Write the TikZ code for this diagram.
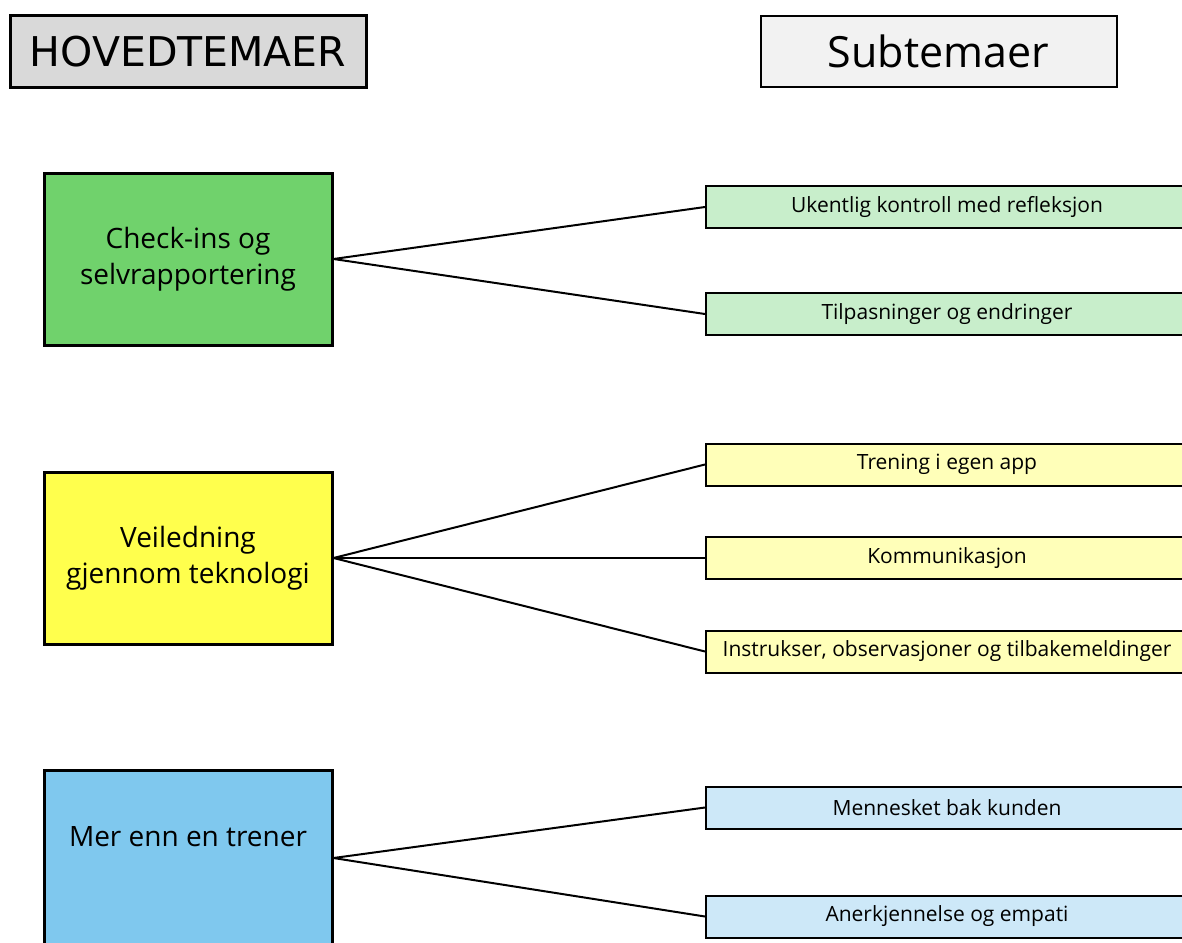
\documentclass[tikz,border=0pt]{standalone}
\usepackage{fontspec}
\setmainfont{Open Sans}
\newfontfamily\headfont{DejaVu Sans}
\usetikzlibrary{positioning}

\definecolor{headgray}{RGB}{217,217,217}
\definecolor{subgray}{RGB}{242,242,242}
\definecolor{maingreen}{RGB}{112,210,108}
\definecolor{mainyellow}{RGB}{255,255,77}
\definecolor{mainblue}{RGB}{127,200,238}
\definecolor{subgreen}{RGB}{200,238,203}
\definecolor{subyellow}{RGB}{255,255,185}
\definecolor{subblue}{RGB}{205,232,248}

\begin{document}
\begin{tikzpicture}[x=1pt,y=1pt]
                        \tikzstyle{every node}=[rectangle,inner sep=0,align=center]
                        \tikzstyle{head}=[draw=black,line width=3,minimum width=356,minimum height=71]
                        \tikzstyle{theme}=[draw=black,line width=3,minimum width=288,minimum height=172,font=\fontsize{28}{36}\selectfont]
                        \tikzstyle{subtheme}=[draw=black,line width=2,minimum width=482,minimum height=42,font=\fontsize{21}{24}\selectfont]
                        \tikzstyle{link}=[line width=2,black]
                        \useasboundingbox (0,0) rectangle (1182,-942);
                        \clip (0,0) rectangle (1182,-942);
                        {
                            % overskrifter
                            \node[head,fill=headgray,font=\headfont\fontsize{41}{44}\selectfont] (hoved) at (188,-51.5) {HOVEDTEMAER};
                            \node[head,fill=subgray,line width=2,font=\fontsize{43}{46}\selectfont] (sub) at (938.5,-51.5) {Subtemaer};

                            % hovedtemaer
                            \node[theme,fill=maingreen] (check) at (188,-259) {Check-ins og\\selvrapportering};
                            \node[theme,fill=mainyellow] (veil) at (188,-558) {Veiledning\\gjennom teknologi};
                            \node[theme,fill=mainblue,minimum height=176] (trener) at (188,-858) {};
                            \node[draw=none,font=\fontsize{28}{36}\selectfont] (trenertxt) at (188,-837) {Mer enn en trener};

                            % subtemaer
                            \node[subtheme,fill=subgreen] (ukent) at (947,-207) {Ukentlig kontroll med refleksjon};
                            \node[subtheme,fill=subgreen] (tilp) at (947,-314) {Tilpasninger og endringer};
                            \node[subtheme,fill=subyellow] (app) at (947,-464.5) {Trening i egen app};
                            \node[subtheme,fill=subyellow] (komm) at (947,-558) {Kommunikasjon};
                            \node[subtheme,fill=subyellow] (instr) at (947,-651.5) {Instrukser, observasjoner og tilbakemeldinger};
                            \node[subtheme,fill=subblue] (menn) at (947,-807.5) {Mennesket bak kunden};
                            \node[subtheme,fill=subblue] (anerk) at (947,-916.5) {Anerkjennelse og empati};

                            % forbindelser
                            \foreach \a/\b in {check/ukent,check/tilp,veil/app,veil/komm,veil/instr,trener/menn,trener/anerk}
                                \draw[link] (\a.east) -- (\b.west);
                        }
                    \end{tikzpicture}
\end{document}
